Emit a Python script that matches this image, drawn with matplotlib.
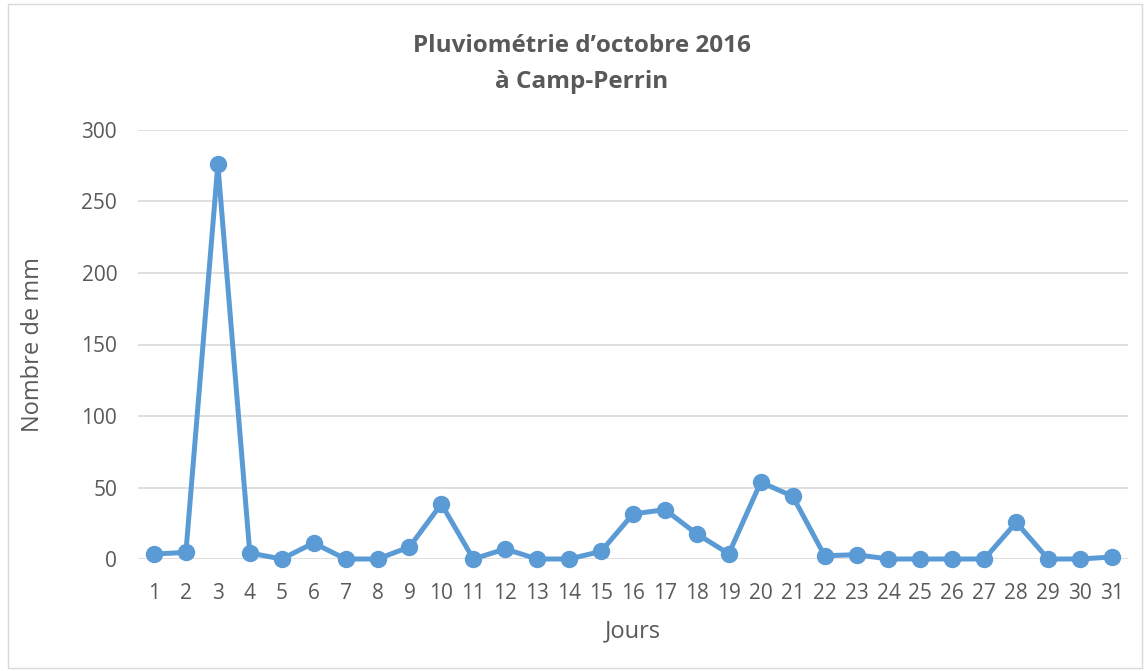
import matplotlib
matplotlib.use("Agg")
import matplotlib.pyplot as plt
from matplotlib.patches import Rectangle

days = list(range(1, 32))
rain_mm = [3.5, 4.6, 276, 4.2, 0, 11.2, 0, 0, 8.4, 38.5,
           0, 7, 0, 0, 5.3, 31.5, 34.5, 17.5, 3.7, 53.7,
           43.9, 2.3, 3, 0, 0, 0, 0, 25.6, 0, 0, 1.4]
y_ticks = [0, 50, 100, 150, 200, 250, 300]
title = "Pluviométrie d\u2019octobre 2016\nà Camp-Perrin"
x_label = "Jours"
y_label = "Nombre de mm"

plt.rcParams['font.family'] = ['Open Sans', 'DejaVu Sans']
text_col = "#595959"

fig = plt.figure(figsize=(11.45, 6.71), dpi=100)
fig.patches.append(Rectangle((8/1145, 3/671), 1134/1145, 664/671, transform=fig.transFigure,
                             fill=False, edgecolor="#D9D9D9", linewidth=1))
ax = fig.add_axes([138/1145, 1 - 559/671, 990/1145, 429/671])

ax.plot(days, rain_mm, color="#5B9BD5", linewidth=3.6, marker="o", markersize=11.5,
        solid_joinstyle="round", zorder=3, clip_on=False)

ax.set_xlim(0.5, 31.5)
ax.set_ylim(0, 300)
ax.set_yticks(y_ticks)
ax.set_xticks(days)
ax.set_xticklabels([str(d) for d in days])
ax.grid(axis="y", color="#D9D9D9", linewidth=1.2)
ax.set_axisbelow(True)
for s in ax.spines.values():
    s.set_visible(False)
ax.tick_params(length=0, labelsize=15, colors=text_col)
ax.tick_params(axis="x", pad=17)
ax.tick_params(axis="y", pad=15)

ax.set_xlabel(x_label, fontsize=17, color=text_col, labelpad=11)
ax.set_ylabel(y_label, fontsize=17, color=text_col, labelpad=26)
fig.text(582/1145, 1 - 64/671, title, ha="center", va="center", fontsize=17.5,
         fontweight="bold", color=text_col, linespacing=1.65)

fig.savefig("out.png", dpi=100)
